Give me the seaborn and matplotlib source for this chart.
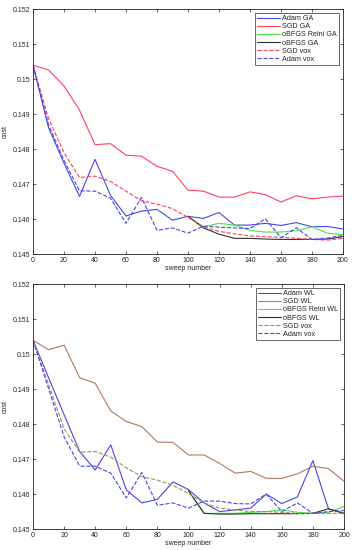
import matplotlib.pyplot as plt
import numpy as np
import pandas as pd
import seaborn as sns

sweeps = list(range(0, 201, 10))
sweeps_bfgs = list(range(100, 201, 10))

# top panel (GA)
adam_ga = [0.15040, 0.14862, 0.14760, 0.14665, 0.14771, 0.14668, 0.14609, 0.14623, 0.14628, 0.14597,
           0.14608, 0.14602, 0.14619, 0.14583, 0.14583, 0.14588, 0.14582, 0.14590, 0.14578, 0.14579, 0.14572]
sgd_ga = [0.15040, 0.15027, 0.14981, 0.14912, 0.14813, 0.14816, 0.14783, 0.14780, 0.14751, 0.14737,
          0.14683, 0.14680, 0.14663, 0.14663, 0.14678, 0.14670, 0.14649, 0.14667, 0.14658, 0.14663, 0.14666]
bfgs_relni_ga = [0.14608, 0.14578, 0.14588, 0.14583, 0.14568, 0.14563, 0.14563, 0.14567, 0.14578, 0.14560, 0.14555]
bfgs_ga = [0.14608, 0.14575, 0.14557, 0.14545, 0.14545, 0.14543, 0.14542, 0.14542, 0.14542, 0.14543, 0.14550]
sgd_vox = [0.15040, 0.14888, 0.14790, 0.14719, 0.14723, 0.14708, 0.14680, 0.14652, 0.14643, 0.14630,
           0.14605, 0.14578, 0.14565, 0.14558, 0.14552, 0.14550, 0.14548, 0.14545, 0.14542, 0.14540, 0.14545]
adam_vox = [0.15040, 0.14870, 0.14768, 0.14681, 0.14680, 0.14660, 0.14588, 0.14662, 0.14568, 0.14575,
            0.14560, 0.14580, 0.14577, 0.14575, 0.14573, 0.14601, 0.14547, 0.14575, 0.14542, 0.14546, 0.14553]

# bottom panel (WL)
adam_wl = [0.15040, 0.14933, 0.14827, 0.14722, 0.14669, 0.14741, 0.14612, 0.14575, 0.14585, 0.14635,
           0.14613, 0.14575, 0.14550, 0.14555, 0.14560, 0.14600, 0.14573, 0.14592, 0.14696, 0.14558, 0.14545]
sgd_wl = [0.15040, 0.15013, 0.15026, 0.14933, 0.14917, 0.14838, 0.14808, 0.14793, 0.14749, 0.14748,
          0.14712, 0.14712, 0.14688, 0.14660, 0.14665, 0.14645, 0.14645, 0.14658, 0.14680, 0.14673, 0.14637]
bfgs_relni_wl = [0.14610, 0.14545, 0.14545, 0.14545, 0.14548, 0.14550, 0.14555, 0.14548, 0.14545, 0.14548, 0.14565]
bfgs_wl = [0.14610, 0.14545, 0.14543, 0.14543, 0.14544, 0.14544, 0.14544, 0.14544, 0.14545, 0.14558, 0.14545]
sgd_vox_b = [0.15040, 0.14913, 0.14787, 0.14720, 0.14722, 0.14706, 0.14675, 0.14650, 0.14640, 0.14625,
             0.14602, 0.14575, 0.14560, 0.14555, 0.14550, 0.14550, 0.14548, 0.14545, 0.14545, 0.14545, 0.14545]
adam_vox_b = [0.15040, 0.14902, 0.14764, 0.14680, 0.14680, 0.14660, 0.14589, 0.14662, 0.14568, 0.14575,
              0.14560, 0.14580, 0.14580, 0.14573, 0.14572, 0.14600, 0.14550, 0.14575, 0.14545, 0.14550, 0.14553]

blue = '#4646e6'
red = '#ff4060'
green = '#46e646'
brown = '#b4785a'
khaki = '#aa8c50'

top_series = [
    ("Adam GA", sweeps, adam_ga, blue, '-'),
    ("SGD GA", sweeps, sgd_ga, red, '-'),
    ("oBFGS Relni GA", sweeps_bfgs, bfgs_relni_ga, green, '-'),
    ("oBFGS GA", sweeps_bfgs, bfgs_ga, '#303030', '-'),
    ("SGD vox", sweeps, sgd_vox, red, '--'),
    ("Adam vox", sweeps, adam_vox, blue, '--'),
]
bottom_series = [
    ("Adam WL", sweeps, adam_wl, blue, '-'),
    ("SGD WL", sweeps, sgd_wl, brown, '-'),
    ("oBFGS Relni WL", sweeps_bfgs, bfgs_relni_wl, green, '-'),
    ("oBFGS WL", sweeps_bfgs, bfgs_wl, '#303030', '-'),
    ("SGD vox", sweeps, sgd_vox_b, khaki, '--'),
    ("Adam vox", sweeps, adam_vox_b, blue, '--'),
]

sns.set_style('white')
plt.rcParams.update({'font.family': ['Liberation Sans', 'DejaVu Sans'], 'font.size': 5})

fig = plt.figure(figsize=(3.55, 5.5), dpi=100)
ax_top = fig.add_axes([0.093, 0.538, 0.873, 0.445])
ax_bot = fig.add_axes([0.093, 0.038, 0.876, 0.445])

for ax, series in [(ax_top, top_series), (ax_bot, bottom_series)]:
    for name, x, y, c, ls in series:
        df = pd.DataFrame({'sweep': x, 'cost': y})
        sns.lineplot(data=df, x='sweep', y='cost', color=c, linestyle=ls,
                     linewidth=0.8, label=name, ax=ax)
    ax.set_xlim(0, 200)
    ax.set_ylim(0.145, 0.152)
    ax.set_xticks(np.arange(0, 201, 20))
    ax.set_yticks([0.145, 0.146, 0.147, 0.148, 0.149, 0.15, 0.151, 0.152])
    ax.set_yticklabels(['0.145', '0.146', '0.147', '0.148', '0.149', '0.15', '0.151', '0.152'])
    ax.tick_params(direction='in', length=2.5, width=0.5, labelsize=5, pad=2,
                   top=True, right=True, bottom=True, left=True)
    for sp in ax.spines.values():
        sp.set_linewidth(0.6)
        sp.set_color('#222222')
    ax.set_xlabel('sweep number', fontsize=5, labelpad=1)
    ax.set_ylabel('cost', fontsize=5, labelpad=3)
    leg = ax.legend(loc='upper right', fontsize=5.2, frameon=True, fancybox=False,
                    borderaxespad=0.5, handlelength=3.2, handletextpad=0.3,
                    labelspacing=0.15, borderpad=0.3)
    leg.get_frame().set_edgecolor('#222222')
    leg.get_frame().set_linewidth(0.6)

fig.savefig('out.png', dpi=100)
